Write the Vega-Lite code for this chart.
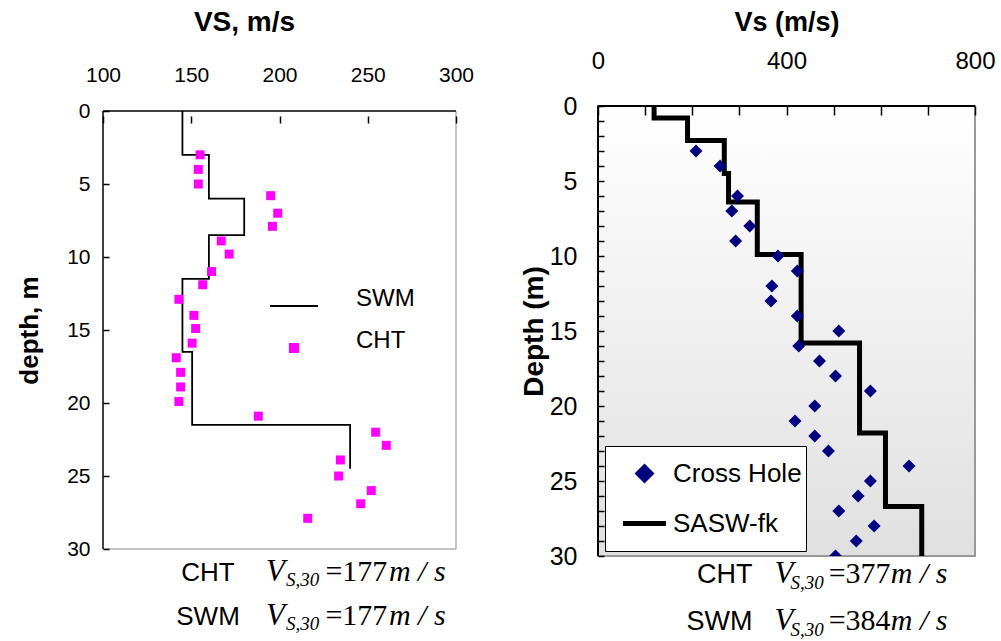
{
  "$schema": "https://vega.github.io/schema/vega-lite/v6.json",
  "background": "white",
  "padding": {"left": 16, "top": 8, "right": 0, "bottom": 0},
  "bounds": "flush",
  "spacing": 142,
  "resolve": {"scale": {"color": "independent"}, "legend": {"color": "independent"}},
  "config": {
    "font": "Liberation Sans",
    "axis": {"labelColor": "black", "titleColor": "black", "grid": true, "gridColor": "black", "gridOpacity": 1, "gridWidth": 1.5, "labelFont": "Liberation Sans", "titleFont": "Liberation Sans", "labelFlush": false, "labelOverlap": false, "zindex": 1, "domain": false, "ticks": false},
    "legend": {"labelFont": "Liberation Sans", "labelColor": "black"}
  },
  "datasets": {
    "left": [
      {"method": "SWM", "vs": 145, "depth": 0},
      {"method": "SWM", "vs": 160, "depth": 3},
      {"method": "SWM", "vs": 180, "depth": 6},
      {"method": "SWM", "vs": 160, "depth": 8.5},
      {"method": "SWM", "vs": 145, "depth": 11.5},
      {"method": "SWM", "vs": 150.5, "depth": 16.5},
      {"method": "SWM", "vs": 240, "depth": 21.5},
      {"method": "SWM", "vs": 240, "depth": 24.5},
      {"method": "CHT", "vs": 155, "depth": 3},
      {"method": "CHT", "vs": 154, "depth": 4},
      {"method": "CHT", "vs": 154, "depth": 5},
      {"method": "CHT", "vs": 195, "depth": 5.8},
      {"method": "CHT", "vs": 199, "depth": 7},
      {"method": "CHT", "vs": 196, "depth": 7.9},
      {"method": "CHT", "vs": 167, "depth": 8.9},
      {"method": "CHT", "vs": 171.5, "depth": 9.8},
      {"method": "CHT", "vs": 161.5, "depth": 11},
      {"method": "CHT", "vs": 156.5, "depth": 11.9},
      {"method": "CHT", "vs": 143, "depth": 12.9},
      {"method": "CHT", "vs": 151.5, "depth": 14},
      {"method": "CHT", "vs": 152.5, "depth": 14.9},
      {"method": "CHT", "vs": 150.5, "depth": 15.9},
      {"method": "CHT", "vs": 141.5, "depth": 16.9},
      {"method": "CHT", "vs": 144, "depth": 17.9},
      {"method": "CHT", "vs": 144, "depth": 18.9},
      {"method": "CHT", "vs": 143, "depth": 19.9},
      {"method": "CHT", "vs": 188, "depth": 20.9},
      {"method": "CHT", "vs": 254.5, "depth": 22},
      {"method": "CHT", "vs": 260.5, "depth": 22.9},
      {"method": "CHT", "vs": 234.5, "depth": 23.9},
      {"method": "CHT", "vs": 233.5, "depth": 25},
      {"method": "CHT", "vs": 252, "depth": 26},
      {"method": "CHT", "vs": 246, "depth": 26.9},
      {"method": "CHT", "vs": 216, "depth": 27.9}
    ],
    "right": [
      {"method": "SASW-fk", "vs": 119, "depth": 0},
      {"method": "SASW-fk", "vs": 190, "depth": 0.8},
      {"method": "SASW-fk", "vs": 268, "depth": 2.3},
      {"method": "SASW-fk", "vs": 277, "depth": 4.5},
      {"method": "SASW-fk", "vs": 338, "depth": 6.4},
      {"method": "SASW-fk", "vs": 431, "depth": 9.9},
      {"method": "SASW-fk", "vs": 555, "depth": 15.8},
      {"method": "SASW-fk", "vs": 610, "depth": 21.8},
      {"method": "SASW-fk", "vs": 687, "depth": 26.7},
      {"method": "SASW-fk", "vs": 687, "depth": 30},
      {"method": "Cross Hole", "vs": 208, "depth": 3},
      {"method": "Cross Hole", "vs": 259, "depth": 4},
      {"method": "Cross Hole", "vs": 296, "depth": 6},
      {"method": "Cross Hole", "vs": 284, "depth": 7},
      {"method": "Cross Hole", "vs": 322, "depth": 8},
      {"method": "Cross Hole", "vs": 292, "depth": 9},
      {"method": "Cross Hole", "vs": 382, "depth": 10},
      {"method": "Cross Hole", "vs": 423, "depth": 11},
      {"method": "Cross Hole", "vs": 369, "depth": 12},
      {"method": "Cross Hole", "vs": 367, "depth": 13},
      {"method": "Cross Hole", "vs": 423, "depth": 14},
      {"method": "Cross Hole", "vs": 511, "depth": 15},
      {"method": "Cross Hole", "vs": 426, "depth": 16},
      {"method": "Cross Hole", "vs": 470, "depth": 17},
      {"method": "Cross Hole", "vs": 504, "depth": 18},
      {"method": "Cross Hole", "vs": 578, "depth": 19},
      {"method": "Cross Hole", "vs": 460, "depth": 20},
      {"method": "Cross Hole", "vs": 418, "depth": 21},
      {"method": "Cross Hole", "vs": 460, "depth": 22},
      {"method": "Cross Hole", "vs": 489, "depth": 23},
      {"method": "Cross Hole", "vs": 660, "depth": 24},
      {"method": "Cross Hole", "vs": 578, "depth": 25},
      {"method": "Cross Hole", "vs": 552, "depth": 26},
      {"method": "Cross Hole", "vs": 511, "depth": 27},
      {"method": "Cross Hole", "vs": 586, "depth": 28},
      {"method": "Cross Hole", "vs": 548, "depth": 29},
      {"method": "Cross Hole", "vs": 504, "depth": 30}
    ]
  },
  "hconcat": [
    {
      "width": 353,
      "height": 443,
      "view": {"stroke": null},
      "layer": [
        {
          "data": {"name": "left"},
          "transform": [{"filter": "datum.method === 'SWM'"}],
          "mark": {"type": "line", "interpolate": "step-before", "strokeWidth": 1.8},
          "encoding": {
            "x": {"field": "vs", "type": "quantitative",
              "scale": {"domain": [100, 300], "nice": false, "zero": false},
              "axis": {"orient": "top", "values": [100, 150, 200, 250, 300], "tickCount": 10, "grid": true, "gridDash": [0, 5, 7, 2000], "gridWidth": 1.5, "gridColor": "black", "ticks": false, "labelOverlap": false, "labelFontSize": 21, "labelPadding": 21, "title": "VS, m/s", "titleFontSize": 28, "titleFontWeight": "bold", "titlePadding": 28, "titleX": 141, "zindex": 1}},
            "y": {"field": "depth", "type": "quantitative",
              "scale": {"domain": [0, 30], "range": [5, 443], "nice": false, "zero": false},
              "axis": {"values": [0, 5, 10, 15, 20, 25, 30], "tickCount": 10, "grid": true, "gridDash": [6, 2000], "gridWidth": 1.5, "gridColor": "black", "ticks": false, "labelOverlap": false, "labelFontSize": 21, "labelPadding": 13, "title": "depth, m", "titleFontSize": 26, "titleFontWeight": "bold", "titlePadding": 24, "zindex": 1}},
            "color": {"field": "method", "type": "nominal",
              "scale": {"domain": ["SWM", "CHT"], "range": ["black", "#ff00ff"]},
              "legend": {"orient": "none", "legendX": 166, "legendY": 179, "title": null, "padding": 0, "symbolOffset": 0, "symbolSize": 2304, "symbolStrokeWidth": 2, "labelFontSize": 24, "labelOffset": 37, "clipHeight": 42, "rowPadding": 0, "labelBaseline": "alphabetic",
                "encode": {"symbols": {"update": {
                  "shape": {"signal": "datum.value === 'CHT' ? 'M-0.17,-0.17H0.17V0.17H-0.17Z' : 'stroke'"},
                  "fill": {"signal": "datum.value === 'CHT' ? '#ff00ff' : 'transparent'"},
                  "stroke": {"signal": "datum.value === 'CHT' ? 'transparent' : 'black'"},
                  "opacity": {"value": 1}}}}}},
            "order": {"field": "depth", "type": "quantitative"}
          }
        },
        {
          "data": {"name": "left"},
          "transform": [{"filter": "datum.method === 'CHT'"}],
          "mark": {"type": "point", "shape": "square", "filled": true, "size": 81, "opacity": 1},
          "encoding": {
            "x": {"field": "vs", "type": "quantitative"},
            "y": {"field": "depth", "type": "quantitative"},
            "color": {"field": "method", "type": "nominal"}
          }
        },
        {
          "data": {"values": [{}]},
          "mark": {"type": "rule", "color": "#b0b0b0", "strokeWidth": 1.5},
          "encoding": {"x": {"datum": 300, "type": "quantitative"}, "y": {"datum": 0, "type": "quantitative"}, "y2": {"datum": 30}}
        },
        {
          "data": {"values": [{}]},
          "mark": {"type": "rule", "color": "#b0b0b0", "strokeWidth": 1.5},
          "encoding": {"x": {"datum": 100, "type": "quantitative"}, "x2": {"datum": 300}, "y": {"datum": 30, "type": "quantitative"}}
        },
        {
          "data": {"values": [{}]},
          "mark": {"type": "rule", "color": "black", "strokeWidth": 1.5},
          "encoding": {"x": {"datum": 100, "type": "quantitative"}, "y": {"datum": 0, "type": "quantitative"}, "y2": {"datum": 30}}
        },
        {
          "data": {"values": [{}]},
          "mark": {"type": "rule", "color": "black", "strokeWidth": 1.5},
          "encoding": {"x": {"datum": 100, "type": "quantitative"}, "x2": {"datum": 300}, "y": {"datum": 0, "type": "quantitative"}}
        },
        {
          "data": {"values": [{}]},
          "mark": {"type": "text", "text": ["CHT", "SWM"], "font": "Liberation Sans", "fontSize": 26, "align": "center", "baseline": "alphabetic", "lineHeight": 44, "color": "black"},
          "encoding": {"x": {"datum": 159.5, "type": "quantitative"}, "y": {"datum": 32.19, "type": "quantitative"}}
        },
        {
          "data": {"values": [{}]},
          "mark": {"type": "text", "text": ["V", "V"], "font": "Liberation Serif", "fontStyle": "italic", "fontSize": 31, "align": "left", "baseline": "alphabetic", "lineHeight": 44, "color": "black"},
          "encoding": {"x": {"datum": 192.4, "type": "quantitative"}, "y": {"datum": 32.19, "type": "quantitative"}}
        },
        {
          "data": {"values": [{}]},
          "mark": {"type": "text", "text": ["S,30", "S,30"], "font": "Liberation Serif", "fontStyle": "italic", "fontSize": 19, "align": "left", "baseline": "alphabetic", "lineHeight": 44, "dy": 5, "color": "black"},
          "encoding": {"x": {"datum": 203.7, "type": "quantitative"}, "y": {"datum": 32.19, "type": "quantitative"}}
        },
        {
          "data": {"values": [{}]},
          "mark": {"type": "text", "text": ["=177", "=177"], "font": "Liberation Serif", "fontSize": 30, "align": "left", "baseline": "alphabetic", "lineHeight": 44, "color": "black"},
          "encoding": {"x": {"datum": 226, "type": "quantitative"}, "y": {"datum": 32.19, "type": "quantitative"}}
        },
        {
          "data": {"values": [{}]},
          "mark": {"type": "text", "text": ["m / s", "m / s"], "font": "Liberation Serif", "fontStyle": "italic", "fontSize": 30, "align": "left", "baseline": "alphabetic", "lineHeight": 44, "color": "black"},
          "encoding": {"x": {"datum": 262, "type": "quantitative"}, "y": {"datum": 32.19, "type": "quantitative"}}
        }
      ]
    },
    {
      "width": 377,
      "height": 450,
      "view": {"stroke": null},
      "layer": [
        {
          "data": {"values": [{}]},
          "mark": {"type": "rect", "stroke": "#999999", "strokeWidth": 2,
            "color": {"gradient": "linear", "x1": 0, "y1": 0, "x2": 0, "y2": 1, "stops": [{"offset": 0, "color": "#ffffff"}, {"offset": 1, "color": "#e0e0e0"}]}},
          "encoding": {
            "x": {"datum": 0, "type": "quantitative",
              "scale": {"domain": [0, 800], "nice": false, "zero": false},
              "axis": {"orient": "top", "values": [0, 100, 200, 300, 400, 500, 600, 700, 800], "tickCount": 20, "labelExpr": "datum.value % 400 === 0 ? datum.label : ''", "labelFontSize": {"condition": {"test": "datum.value % 400 !== 0", "value": 0}, "value": 24}, "grid": true, "gridDash": [9, 2000], "gridWidth": 1.5, "gridColor": "black", "ticks": false, "labelOverlap": false, "labelPadding": 33, "title": "Vs (m/s)", "titleFontSize": 27, "titleFontWeight": "bold", "titlePadding": 13, "zindex": 1}},
            "x2": {"datum": 800},
            "y": {"datum": 0, "type": "quantitative",
              "scale": {"domain": [0, 30], "reverse": true, "nice": false, "zero": false},
              "axis": {"values": [0, 1, 2, 3, 4, 5, 6, 7, 8, 9, 10, 11, 12, 13, 14, 15, 16, 17, 18, 19, 20, 21, 22, 23, 24, 25, 26, 27, 28, 29, 30], "tickCount": 40, "labelExpr": "datum.value % 5 === 0 ? datum.label : ''", "labelFontSize": {"condition": {"test": "datum.value % 5 !== 0", "value": 0}, "value": 25}, "grid": true, "gridDash": [6, 2000], "gridWidth": 1.5, "gridColor": "black", "ticks": false, "labelOverlap": false, "labelPadding": 21, "title": "Depth (m)", "titleFontSize": 28, "titleFontWeight": "bold", "titlePadding": 1, "zindex": 1}},
            "y2": {"datum": 30}
          }
        },
        {
          "data": {"values": [{}]},
          "mark": {"type": "rule", "color": "black", "strokeWidth": 2},
          "encoding": {"x": {"datum": 0, "type": "quantitative"}, "y": {"datum": 0, "type": "quantitative"}, "y2": {"datum": 30}}
        },
        {
          "data": {"values": [{}]},
          "mark": {"type": "rule", "color": "black", "strokeWidth": 2},
          "encoding": {"x": {"datum": 0, "type": "quantitative"}, "x2": {"datum": 800}, "y": {"datum": 0, "type": "quantitative"}}
        },
        {
          "data": {"name": "right"},
          "transform": [{"filter": "datum.method === 'SASW-fk'"}],
          "mark": {"type": "line", "interpolate": "step-before", "strokeWidth": 5},
          "encoding": {
            "x": {"field": "vs", "type": "quantitative"},
            "y": {"field": "depth", "type": "quantitative"},
            "color": {"field": "method", "type": "nominal",
              "scale": {"domain": ["Cross Hole", "SASW-fk"], "range": ["#000080", "black"]},
              "legend": {"orient": "none", "legendX": 7, "legendY": 340, "title": null, "fillColor": "white", "strokeColor": "black", "padding": 4, "symbolOffset": 11.5, "symbolSize": 1849, "symbolStrokeWidth": 5, "labelFontSize": 26, "labelOffset": 4.5, "clipHeight": 47, "rowPadding": 3, "labelBaseline": "middle",
                "encode": {"symbols": {"update": {
                  "shape": {"signal": "datum.value === 'Cross Hole' ? 'M-0.3,0L0,-0.3L0.3,0L0,0.3Z' : 'stroke'"},
                  "fill": {"signal": "datum.value === 'Cross Hole' ? '#000080' : 'transparent'"},
                  "stroke": {"signal": "datum.value === 'Cross Hole' ? 'transparent' : 'black'"},
                  "opacity": {"value": 1}}}}}},
            "order": {"field": "depth", "type": "quantitative"}
          }
        },
        {
          "data": {"name": "right"},
          "transform": [{"filter": "datum.method === 'Cross Hole'"}],
          "mark": {"type": "point", "shape": "diamond", "filled": true, "size": 169, "opacity": 1, "clip": true},
          "encoding": {
            "x": {"field": "vs", "type": "quantitative"},
            "y": {"field": "depth", "type": "quantitative"},
            "color": {"field": "method", "type": "nominal"}
          }
        },
        {
          "data": {"values": [{}]},
          "mark": {"type": "text", "text": ["CHT", "SWM"], "font": "Liberation Sans", "fontSize": 27, "align": "right", "baseline": "alphabetic", "lineHeight": 47, "color": "black"},
          "encoding": {"x": {"datum": 327.7, "type": "quantitative"}, "y": {"datum": 31.8, "type": "quantitative"}}
        },
        {
          "data": {"values": [{}]},
          "mark": {"type": "text", "text": ["V", "V"], "font": "Liberation Serif", "fontStyle": "italic", "fontSize": 31, "align": "left", "baseline": "alphabetic", "lineHeight": 47, "color": "black"},
          "encoding": {"x": {"datum": 374.5, "type": "quantitative"}, "y": {"datum": 31.8, "type": "quantitative"}}
        },
        {
          "data": {"values": [{}]},
          "mark": {"type": "text", "text": ["S,30", "S,30"], "font": "Liberation Serif", "fontStyle": "italic", "fontSize": 19, "align": "left", "baseline": "alphabetic", "lineHeight": 47, "dy": 6, "color": "black"},
          "encoding": {"x": {"datum": 408.5, "type": "quantitative"}, "y": {"datum": 31.8, "type": "quantitative"}}
        },
        {
          "data": {"values": [{}]},
          "mark": {"type": "text", "text": ["=377", "=384"], "font": "Liberation Serif", "fontSize": 30, "align": "left", "baseline": "alphabetic", "lineHeight": 47, "color": "black"},
          "encoding": {"x": {"datum": 489.5, "type": "quantitative"}, "y": {"datum": 31.8, "type": "quantitative"}}
        },
        {
          "data": {"values": [{}]},
          "mark": {"type": "text", "text": ["m / s", "m / s"], "font": "Liberation Serif", "fontStyle": "italic", "fontSize": 30, "align": "left", "baseline": "alphabetic", "lineHeight": 47, "color": "black"},
          "encoding": {"x": {"datum": 621.3, "type": "quantitative"}, "y": {"datum": 31.8, "type": "quantitative"}}
        }
      ]
    }
  ]
}
